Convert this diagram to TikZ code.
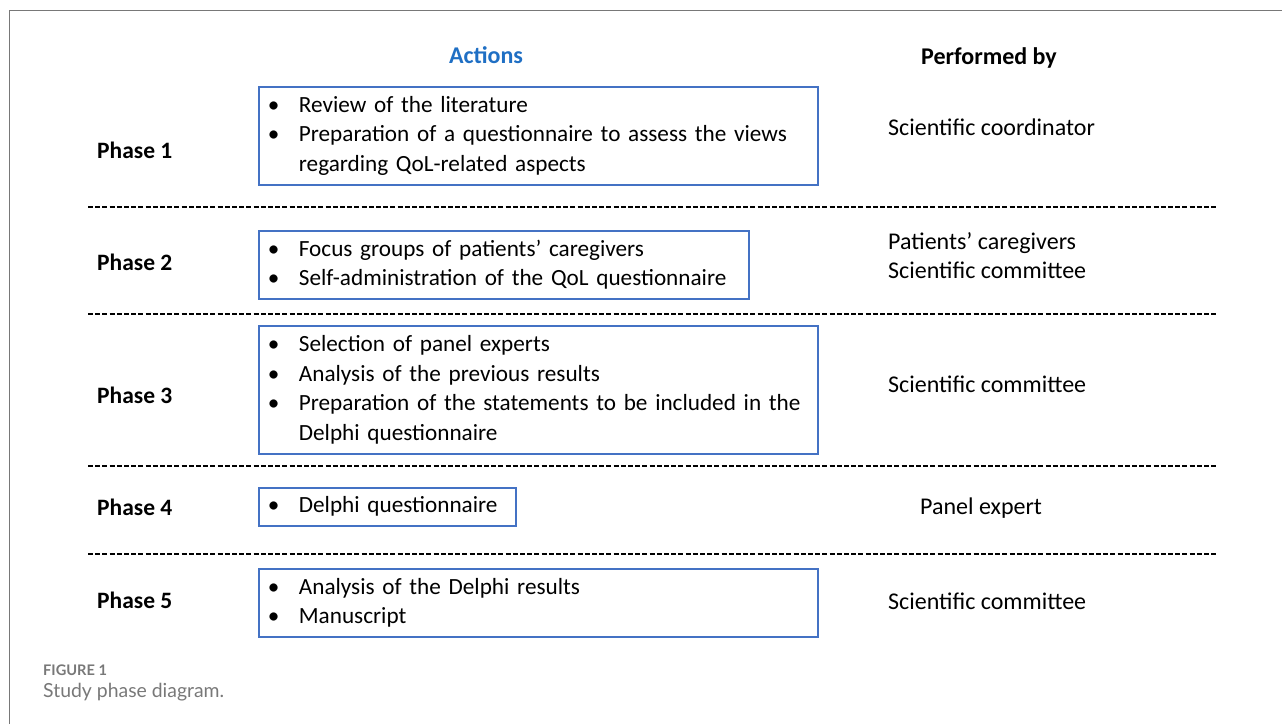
\documentclass[tikz,border=0pt]{standalone}
\usepackage{fontspec}
\setmainfont{Carlito}
\newfontfamily\capfont{Lato}
\usepackage{xcolor}
\definecolor{BOXCOLOR}{RGB}{68,114,196}
\definecolor{HEADCOLOR}{RGB}{31,111,196}
\definecolor{CAPCOLOR}{RGB}{120,120,120}
\usetikzlibrary{positioning}
\tikzset{
  phase-style/.style = {
    anchor=west, inner sep=0pt, font=\fontsize{23.5}{28}\selectfont\bfseries
  },
  head-style/.style = {
    inner sep=0pt, font=\fontsize{24}{28}\selectfont\bfseries
  },
  action-style/.style = {
    draw=BOXCOLOR, line width=1.8pt, anchor=north west,
    inner xsep=9pt, inner ysep=0pt,
    text width=#1, align=left,
    font=\fontsize{23.2}{29.5}\selectfont
  },
  who-style/.style = {
    anchor=west, inner sep=0pt, align=left,
    font=\fontsize{24}{29}\selectfont
  },
  sep-style/.style = {
    line width=1.8pt, dash pattern=on 5pt off 2.2pt
  }
}
% bullet list inside an action box
\newcommand{\actlist}[1]{%
  \begin{tabular}{@{}p{31pt}@{}l@{}}#1\end{tabular}}
\begin{document}
\begin{tikzpicture}[x=1pt,y=-1pt]
    \useasboundingbox (0,0) rectangle (1282,724);
    %%% frame
    \draw[line width=1.5pt,CAPCOLOR] (9.5,724) -- (9.5,10.5) -- (1282,10.5);

    %%% headings
    \node[head-style,text=HEADCOLOR] (actions) at (486,55) {Actions};
    \node[head-style] (perf) at (989,58) {Performed by};

    %%% phase 1
    \node[phase-style] (ph1) at (97,150) {Phase 1};
    \node[action-style=541pt,minimum height=98pt] (act1) at (258,86) {\actlist{%
      \textbullet & Review of the literature\\
      \textbullet & Preparation of a questionnaire to assess the views\\
       & regarding QoL-related aspects}};
    \node[who-style] (who1) at (888,127) {Scientific coordinator};

    %%% phase 2
    \node[phase-style] (ph2) at (97,262) {Phase 2};
    \node[action-style=472pt,minimum height=68pt] (act2) at (258,230) {\actlist{%
      \textbullet & Focus groups of patients’ caregivers\\
      \textbullet & Self-administration of the QoL questionnaire}};
    \node[who-style] (who2) at (888,256) {Patients’ caregivers\\Scientific committee};

    %%% phase 3
    \node[phase-style] (ph3) at (97,395) {Phase 3};
    \node[action-style=541pt,minimum height=128pt] (act3) at (258,325) {\actlist{%
      \textbullet & Selection of panel experts\\
      \textbullet & Analysis of the previous results\\
      \textbullet & Preparation of the statements to be included in the\\
       & Delphi questionnaire}};
    \node[who-style] (who3) at (888,384) {Scientific committee};

    %%% phase 4
    \node[phase-style] (ph4) at (97,507) {Phase 4};
    \node[action-style=239pt,minimum height=38pt] (act4) at (258,487) {\actlist{%
      \textbullet & Delphi questionnaire}};
    \node[who-style] (who4) at (920,508) {Panel expert};

    %%% phase 5
    \node[phase-style] (ph5) at (97,600) {Phase 5};
    \node[action-style=541pt,minimum height=68pt] (act5) at (258,568) {\actlist{%
      \textbullet & Analysis of the Delphi results\\
      \textbullet & Manuscript}};
    \node[who-style] (who5) at (888,601) {Scientific committee};

    %%% dashed separators
    \foreach \y in {207,314,466,554}
      \draw[sep-style] (88,\y) -- (1218,\y);

    %%% caption
    \node[anchor=west,inner sep=0pt,text=CAPCOLOR,font=\capfont\fontsize{14.6}{17}\selectfont\bfseries] (fig) at (43,670) {FIGURE 1};
    \node[anchor=west,inner sep=0pt,text=CAPCOLOR,font=\capfont\fontsize{19.4}{22}\selectfont] (cap) at (43,692) {Study phase diagram.};
  \end{tikzpicture}
\end{document}
